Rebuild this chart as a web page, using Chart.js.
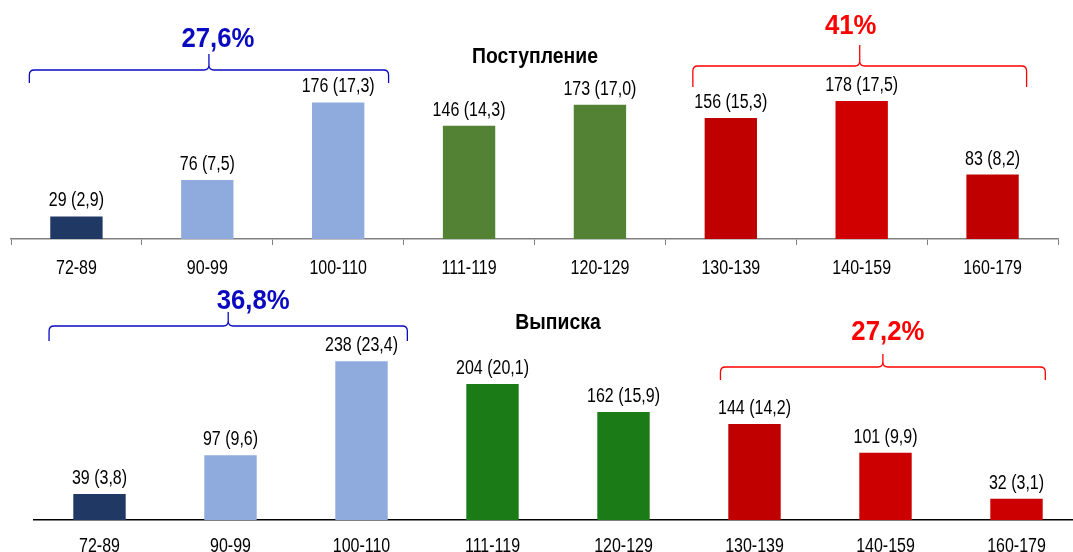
<!DOCTYPE html>
<html lang="ru">
<head>
<meta charset="utf-8">
<title>Поступление и выписка</title>
<script src="https://cdn.jsdelivr.net/npm/chart.js@4.4.1/dist/chart.umd.min.js"></script>
<style>
  html, body { margin: 0; padding: 0; width: 1073px; height: 552px; overflow: hidden; background: #fff; }
  .panel { position: absolute; left: 0; }
  #admPanel { top: 0; width: 1073px; height: 280px; }
  #disPanel { top: 280px; width: 1100px; height: 300px; }
</style>
</head>
<body>
<div class="panel" id="admPanel"><canvas id="admChart" width="1073" height="280"></canvas></div>
<div class="panel" id="disPanel"><canvas id="disChart" width="1100" height="300"></canvas></div>
<script>
// Categories (shared by both panels)
const categories = ['72-89', '90-99', '100-110', '111-119', '120-129', '130-139', '140-159', '160-179'];

// Поступление: counts and shares, %
const admissionCounts = [29, 76, 176, 146, 173, 156, 178, 83];
const admissionShares = [2.9, 7.5, 17.3, 14.3, 17.0, 15.3, 17.5, 8.2];
const admissionColors = ['#203864', '#8FAADC', '#8FAADC', '#548235', '#548235', '#C00000', '#D00000', '#C00000'];

// Выписка: counts and shares, %
const dischargeCounts = [39, 97, 238, 204, 162, 144, 101, 32];
const dischargeShares = [3.8, 9.6, 23.4, 20.1, 15.9, 14.2, 9.9, 3.1];
const dischargeColors = ['#203864', '#8FAADC', '#8FAADC', '#1B7B17', '#1B7B17', '#C00000', '#CC0000', '#CC0000'];

// Group brackets: category ranges and their summary labels
const admissionGroupRanges = [[0, 2], [5, 7]];
const admissionGroupLabels = ['27,6%', '41%'];
const dischargeGroupRanges = [[0, 2], [5, 7]];
const dischargeGroupLabels = ['36,8%', '27,2%'];

const FONT = '"Liberation Sans", Arial, Helvetica, sans-serif';
const BLUE = '#0A0AC0';
const RED = '#FF0000';

const fmt = v => v.toFixed(1).replace('.', ',');

// Text drawn with a condensed (horizontally squeezed) look
function condensedText(ctx, text, x, y, size, sx, weight) {
  ctx.save();
  ctx.translate(x, y);
  ctx.scale(sx, 1);
  ctx.font = (weight || '') + ' ' + size + 'px ' + FONT;
  ctx.fillText(text, 0, 0);
  ctx.restore();
}

// Draws a horizontal curly bracket with a cusp in the middle
function drawBrace(ctx, x0, x1, yH, yEnd, yPeak, color) {
  const xm = (x0 + x1) / 2, r = 5;
  ctx.save();
  ctx.strokeStyle = color;
  ctx.lineWidth = 1.3;
  ctx.beginPath();
  ctx.moveTo(x0, yEnd);
  ctx.lineTo(x0, yH + r);
  ctx.quadraticCurveTo(x0, yH, x0 + r, yH);
  ctx.lineTo(xm - r, yH);
  ctx.quadraticCurveTo(xm, yH, xm, yH - r);
  ctx.lineTo(xm, yPeak);
  ctx.moveTo(xm, yH - r);
  ctx.quadraticCurveTo(xm, yH, xm + r, yH);
  ctx.lineTo(x1 - r, yH);
  ctx.quadraticCurveTo(x1, yH, x1, yH + r);
  ctx.lineTo(x1, yEnd);
  ctx.stroke();
  ctx.restore();
}

// Category labels, value labels, panel title and group brackets
const decorPlugin = {
  id: 'decor',
  afterDatasetsDraw(chart, args, o) {
    const ctx = chart.ctx;
    const xs = chart.scales.x;
    const meta = chart.getDatasetMeta(0);
    const ds = chart.data.datasets[0];
    ctx.save();
    ctx.fillStyle = '#000';
    ctx.textAlign = 'center';

    // category labels under the axis
    ctx.textBaseline = 'middle';
    chart.data.labels.forEach((lab, i) => {
      condensedText(ctx, lab, xs.getPixelForValue(i), xs.top + o.labelGap, 20, 0.8);
    });

    // value labels above bars
    ctx.textBaseline = 'alphabetic';
    meta.data.forEach((bar, i) => {
      condensedText(ctx, ds.data[i] + ' (' + fmt(o.shares[i]) + ')', bar.x, bar.y - 10, 20, 0.8);
    });

    // title
    ctx.textBaseline = 'middle';
    condensedText(ctx, o.title, o.titleX, o.titleY, 22, 0.88, 'bold');

    // brackets
    const cw = xs.width / chart.data.labels.length;
    o.groups.forEach((g, k) => {
      const b = o.braces[k];
      const x0 = xs.getPixelForValue(g[0]) + b.from * cw;
      const x1 = xs.getPixelForValue(g[1]) + b.to * cw;
      drawBrace(ctx, x0, x1, b.yH, b.yEnd, b.yPeak, b.color);
      ctx.fillStyle = b.color;
      ctx.textBaseline = 'middle';
      condensedText(ctx, o.labels[k], (x0 + x1) / 2 + b.dx, b.yText, 28, 0.92, 'bold');
    });
    ctx.restore();
  }
};

function makeChart(id, counts, shares, colors, cfg) {
  return new Chart(document.getElementById(id), {
    type: 'bar',
    data: {
      labels: categories,
      datasets: [{
        data: counts,
        backgroundColor: colors,
        borderWidth: 0,
        barPercentage: 0.4,
        categoryPercentage: 1.0
      }]
    },
    options: {
      responsive: false,
      devicePixelRatio: 1,
      animation: false,
      events: [],
      layout: { padding: cfg.padding },
      plugins: {
        legend: { display: false },
        tooltip: { enabled: false },
        decor: cfg.decor
      },
      scales: {
        x: {
          offset: true,
          grid: {
            offset: true,
            drawOnChartArea: false,
            drawTicks: true,
            tickLength: 6,
            color: cfg.tickColor,
            lineWidth: 1
          },
          border: { display: true, color: cfg.axisColor, width: 1.5 },
          ticks: { display: false, autoSkip: false },
          afterFit(scale) { scale.height = cfg.axisHeight; }
        },
        y: {
          display: false,
          min: 0,
          max: cfg.yMax
        }
      }
    },
    plugins: [decorPlugin]
  });
}

makeChart('admChart', admissionCounts, admissionShares, admissionColors, {
  padding: { top: 0, left: 11, right: 15, bottom: 0 },
  axisHeight: 41,
  yMax: 308,
  tickColor: '#808080',
  axisColor: '#808080',
  decor: {
    shares: admissionShares,
    labelGap: 29,
    title: 'Поступление',
    titleX: 535, titleY: 57,
    groups: admissionGroupRanges,
    labels: admissionGroupLabels,
    braces: [
      { from: -0.36, to: 0.385, yH: 70, yEnd: 83, yPeak: 54, yText: 39, dx: 9, color: BLUE },
      { from: -0.29, to: 0.26, yH: 66, yEnd: 87, yPeak: 45, yText: 26, dx: -9, color: RED }
    ]
  }
});

makeChart('disChart', dischargeCounts, dischargeShares, dischargeColors, {
  padding: { top: 0, left: 34, right: 18, bottom: 0 },
  axisHeight: 60,
  yMax: 360,
  tickColor: 'rgba(0,0,0,0)',
  axisColor: '#000000',
  decor: {
    shares: dischargeShares,
    labelGap: 26,
    title: 'Выписка',
    titleX: 558, titleY: 43,
    groups: dischargeGroupRanges,
    labels: dischargeGroupLabels,
    braces: [
      { from: -0.385, to: 0.35, yH: 46, yEnd: 61, yPeak: 32, yText: 21, dx: 25, color: BLUE },
      { from: -0.26, to: 0.22, yH: 87, yEnd: 100, yPeak: 74, yText: 52, dx: 5, color: RED }
    ]
  }
});
</script>
</body>
</html>
